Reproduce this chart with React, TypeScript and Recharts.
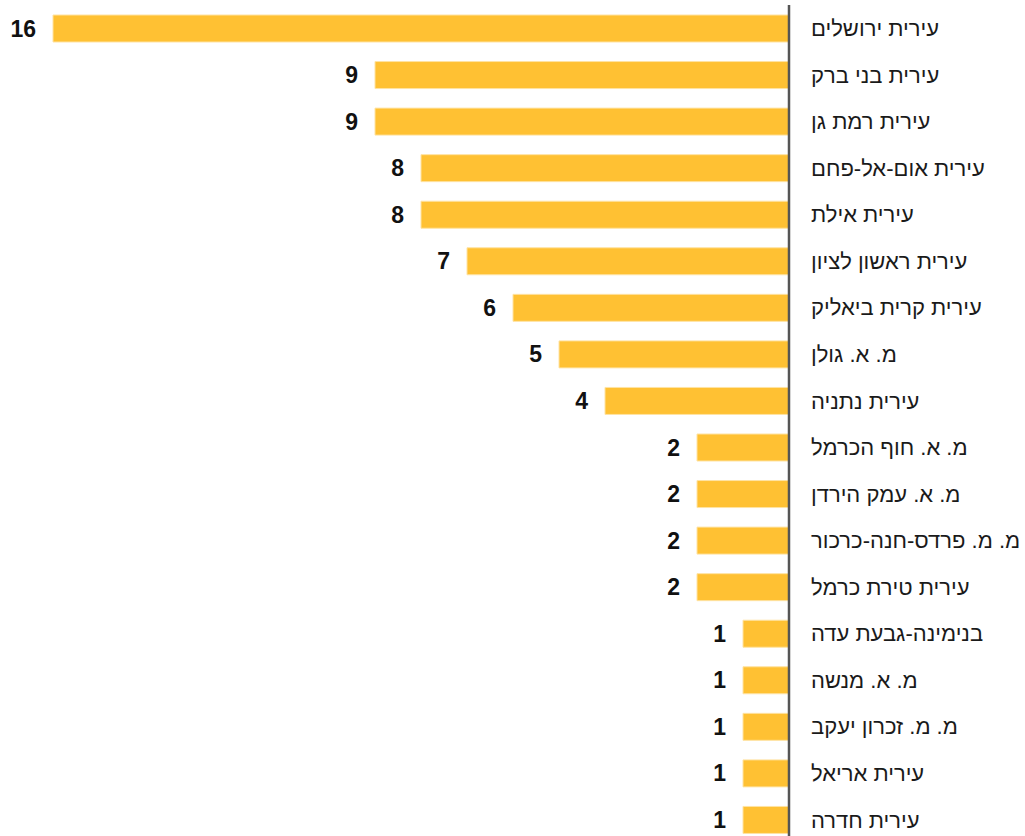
import { BarChart, Bar, XAxis, YAxis, LabelList } from "recharts";

const categories = [
  "עירית ירושלים",
  "עירית בני ברק",
  "עירית רמת גן",
  "עירית אום-אל-פחם",
  "עירית אילת",
  "עירית ראשון לציון",
  "עירית קרית ביאליק",
  "מ. א. גולן",
  "עירית נתניה",
  "מ. א. חוף הכרמל",
  "מ. א. עמק הירדן",
  "מ. מ. פרדס-חנה-כרכור",
  "עירית טירת כרמל",
  "בנימינה-גבעת עדה",
  "מ. א. מנשה",
  "מ. מ. זכרון יעקב",
  "עירית אריאל",
  "עירית חדרה",
];

const counts = [16, 9, 9, 8, 8, 7, 6, 5, 4, 2, 2, 2, 2, 1, 1, 1, 1, 1];

const data = categories.map((name, i) => ({ name, count: counts[i] }));

const FONT = "'Liberation Sans', Arial, sans-serif";

function ValueLabel(props: any) {
  const { x, y, width, height, value } = props;
  const left = width < 0 ? x + width : x;
  return (
    <text
      x={left - 17}
      y={y + height / 2}
      textAnchor="end"
      dominantBaseline="central"
      fontFamily={FONT}
      fontSize={23}
      fontWeight="bold"
      fill="#111"
    >
      {value}
    </text>
  );
}

export default function App() {
  return (
    <div style={{ position: "absolute", left: 0, top: 0, width: 1025, height: 836, overflow: "hidden", background: "#fff" }}>
      <BarChart
        width={1025}
        height={850}
        data={data}
        layout="vertical"
        margin={{ top: 5, right: 0, left: 53, bottom: 7 }}
        barSize={27}
      >
        <XAxis type="number" domain={[0, 16]} reversed hide />
        <YAxis
          type="category"
          dataKey="name"
          orientation="right"
          width={236}
          axisLine={{ stroke: "#555", strokeWidth: 2.5 }}
          tickLine={false}
          tickSize={0}
          tickMargin={22}
          interval={0}
          tick={{ fill: "#1a1a1a", fontSize: 22, fontFamily: FONT }}
        />
        <Bar dataKey="count" fill="#FFC133" stroke="#FFE3A3" strokeWidth={1} isAnimationActive={false}>
          <LabelList dataKey="count" content={<ValueLabel />} />
        </Bar>
      </BarChart>
    </div>
  );
}
